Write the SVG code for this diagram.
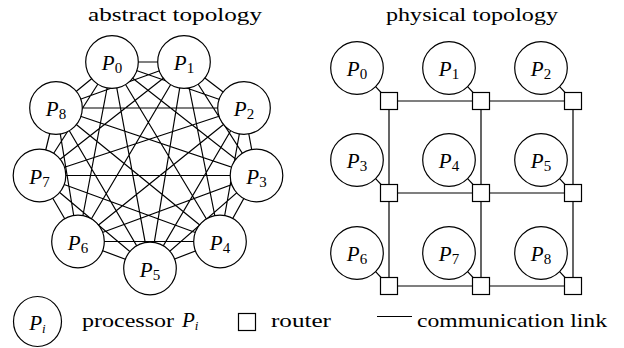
<svg xmlns="http://www.w3.org/2000/svg" width="624" height="348" viewBox="0 0 624 348">
<style>
.e{stroke:#000;stroke-width:1.2;fill:none}
.n{fill:#fff;stroke:#000;stroke-width:1.2}
.r{fill:#fff;stroke:#000;stroke-width:1.2}
</style>
<rect width="624" height="348" fill="#fff"/>
<text x="88" y="21" font-family="Liberation Serif, Times New Roman, serif" font-size="19" textLength="174" lengthAdjust="spacingAndGlyphs">abstract topology</text>
<text x="386" y="21" font-family="Liberation Serif, Times New Roman, serif" font-size="19" textLength="172" lengthAdjust="spacingAndGlyphs">physical topology</text>
<g id="abstract-links">
<path class="e" d="M112 62L184 62M112 62L244 108M112 62L256.5 175.5M112 62L220 241.5M112 62L150 268.5M112 62L78 241.5M112 62L39.5 175.5M112 62L56 108
M184 62L244 108M184 62L256.5 175.5M184 62L220 241.5M184 62L150 268.5M184 62L78 241.5M184 62L39.5 175.5M184 62L56 108
M244 108L256.5 175.5M244 108L220 241.5M244 108L150 268.5M244 108L78 241.5M244 108L39.5 175.5M244 108L56 108
M256.5 175.5L220 241.5M256.5 175.5L150 268.5M256.5 175.5L78 241.5M256.5 175.5L39.5 175.5M256.5 175.5L56 108
M220 241.5L150 268.5M220 241.5L78 241.5M220 241.5L39.5 175.5M220 241.5L56 108
M150 268.5L78 241.5M150 268.5L39.5 175.5M150 268.5L56 108
M78 241.5L39.5 175.5M78 241.5L56 108
M39.5 175.5L56 108"/>
</g>
<g id="a0"><circle class="n" cx="112" cy="62" r="26.3"/><text x="112" y="70" font-family="Liberation Serif, Times New Roman, serif" font-style="italic" font-size="21" text-anchor="middle">P<tspan font-style="normal" font-size="15" dy="3">0</tspan></text></g>
<g id="a1"><circle class="n" cx="184" cy="62" r="26.3"/><text x="184" y="70" font-family="Liberation Serif, Times New Roman, serif" font-style="italic" font-size="21" text-anchor="middle">P<tspan font-style="normal" font-size="15" dy="3">1</tspan></text></g>
<g id="a2"><circle class="n" cx="244" cy="108" r="26.3"/><text x="244" y="116" font-family="Liberation Serif, Times New Roman, serif" font-style="italic" font-size="21" text-anchor="middle">P<tspan font-style="normal" font-size="15" dy="3">2</tspan></text></g>
<g id="a3"><circle class="n" cx="256.5" cy="175.5" r="26.3"/><text x="256.5" y="183.5" font-family="Liberation Serif, Times New Roman, serif" font-style="italic" font-size="21" text-anchor="middle">P<tspan font-style="normal" font-size="15" dy="3">3</tspan></text></g>
<g id="a4"><circle class="n" cx="220" cy="241.5" r="26.3"/><text x="220" y="249.5" font-family="Liberation Serif, Times New Roman, serif" font-style="italic" font-size="21" text-anchor="middle">P<tspan font-style="normal" font-size="15" dy="3">4</tspan></text></g>
<g id="a5"><circle class="n" cx="150" cy="268.5" r="26.3"/><text x="150" y="276.5" font-family="Liberation Serif, Times New Roman, serif" font-style="italic" font-size="21" text-anchor="middle">P<tspan font-style="normal" font-size="15" dy="3">5</tspan></text></g>
<g id="a6"><circle class="n" cx="78" cy="241.5" r="26.3"/><text x="78" y="249.5" font-family="Liberation Serif, Times New Roman, serif" font-style="italic" font-size="21" text-anchor="middle">P<tspan font-style="normal" font-size="15" dy="3">6</tspan></text></g>
<g id="a7"><circle class="n" cx="39.5" cy="175.5" r="26.3"/><text x="39.5" y="183.5" font-family="Liberation Serif, Times New Roman, serif" font-style="italic" font-size="21" text-anchor="middle">P<tspan font-style="normal" font-size="15" dy="3">7</tspan></text></g>
<g id="a8"><circle class="n" cx="56" cy="108" r="26.3"/><text x="56" y="116" font-family="Liberation Serif, Times New Roman, serif" font-style="italic" font-size="21" text-anchor="middle">P<tspan font-style="normal" font-size="15" dy="3">8</tspan></text></g>
<g id="physical-links">
<path class="e" d="M389 101H573M389 193H573M389 286H573M389 101V286M481 101V286M573 101V286
M375.6 86.6L389 101M467.6 86.6L481 101M559.6 86.6L573 101
M375.6 178.6L389 193M467.6 178.6L481 193M559.6 178.6L573 193
M375.6 271.6L389 286M467.6 271.6L481 286M559.6 271.6L573 286"/>
</g>
<g id="r0"><rect class="r" x="380.5" y="92.5" width="17" height="17"/></g>
<g id="r1"><rect class="r" x="472.5" y="92.5" width="17" height="17"/></g>
<g id="r2"><rect class="r" x="564.5" y="92.5" width="17" height="17"/></g>
<g id="r3"><rect class="r" x="380.5" y="184.5" width="17" height="17"/></g>
<g id="r4"><rect class="r" x="472.5" y="184.5" width="17" height="17"/></g>
<g id="r5"><rect class="r" x="564.5" y="184.5" width="17" height="17"/></g>
<g id="r6"><rect class="r" x="380.5" y="277.5" width="17" height="17"/></g>
<g id="r7"><rect class="r" x="472.5" y="277.5" width="17" height="17"/></g>
<g id="r8"><rect class="r" x="564.5" y="277.5" width="17" height="17"/></g>
<g id="b0"><circle class="n" cx="357" cy="68" r="26.3"/><text x="357" y="76" font-family="Liberation Serif, Times New Roman, serif" font-style="italic" font-size="21" text-anchor="middle">P<tspan font-style="normal" font-size="15" dy="3">0</tspan></text></g>
<g id="b1"><circle class="n" cx="449" cy="68" r="26.3"/><text x="449" y="76" font-family="Liberation Serif, Times New Roman, serif" font-style="italic" font-size="21" text-anchor="middle">P<tspan font-style="normal" font-size="15" dy="3">1</tspan></text></g>
<g id="b2"><circle class="n" cx="541" cy="68" r="26.3"/><text x="541" y="76" font-family="Liberation Serif, Times New Roman, serif" font-style="italic" font-size="21" text-anchor="middle">P<tspan font-style="normal" font-size="15" dy="3">2</tspan></text></g>
<g id="b3"><circle class="n" cx="357" cy="160" r="26.3"/><text x="357" y="168" font-family="Liberation Serif, Times New Roman, serif" font-style="italic" font-size="21" text-anchor="middle">P<tspan font-style="normal" font-size="15" dy="3">3</tspan></text></g>
<g id="b4"><circle class="n" cx="449" cy="160" r="26.3"/><text x="449" y="168" font-family="Liberation Serif, Times New Roman, serif" font-style="italic" font-size="21" text-anchor="middle">P<tspan font-style="normal" font-size="15" dy="3">4</tspan></text></g>
<g id="b5"><circle class="n" cx="541" cy="160" r="26.3"/><text x="541" y="168" font-family="Liberation Serif, Times New Roman, serif" font-style="italic" font-size="21" text-anchor="middle">P<tspan font-style="normal" font-size="15" dy="3">5</tspan></text></g>
<g id="b6"><circle class="n" cx="357" cy="253" r="26.3"/><text x="357" y="261" font-family="Liberation Serif, Times New Roman, serif" font-style="italic" font-size="21" text-anchor="middle">P<tspan font-style="normal" font-size="15" dy="3">6</tspan></text></g>
<g id="b7"><circle class="n" cx="449" cy="253" r="26.3"/><text x="449" y="261" font-family="Liberation Serif, Times New Roman, serif" font-style="italic" font-size="21" text-anchor="middle">P<tspan font-style="normal" font-size="15" dy="3">7</tspan></text></g>
<g id="b8"><circle class="n" cx="541" cy="253" r="26.3"/><text x="541" y="261" font-family="Liberation Serif, Times New Roman, serif" font-style="italic" font-size="21" text-anchor="middle">P<tspan font-style="normal" font-size="15" dy="3">8</tspan></text></g>
<g id="legend">
<g id="legend-processor"><ellipse class="n" cx="37.5" cy="321.5" rx="24" ry="25"/><text x="37.5" y="330" font-family="Liberation Serif, Times New Roman, serif" font-style="italic" font-size="21" text-anchor="middle">P<tspan font-size="13" dy="3">i</tspan></text>
<text x="82" y="327" font-family="Liberation Serif, Times New Roman, serif" font-size="19" textLength="92" lengthAdjust="spacingAndGlyphs">processor</text><text x="182" y="327" font-family="Liberation Serif, Times New Roman, serif" font-style="italic" font-size="21">P<tspan font-size="13" dy="3">i</tspan></text></g>
<g id="legend-router"><rect class="r" x="238.5" y="313.5" width="17" height="17"/><text x="271" y="327" font-family="Liberation Serif, Times New Roman, serif" font-size="19" textLength="60" lengthAdjust="spacingAndGlyphs">router</text></g>
<g id="legend-link"><line class="e" x1="377" y1="316.5" x2="412" y2="316.5"/><text x="417" y="327" font-family="Liberation Serif, Times New Roman, serif" font-size="19" textLength="190" lengthAdjust="spacingAndGlyphs">communication link</text></g>
</g>
</svg>
